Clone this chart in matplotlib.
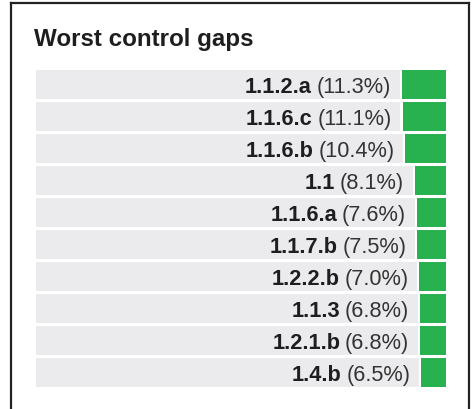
import numpy as np
import matplotlib
matplotlib.use('agg')
import matplotlib.pyplot as plt
from matplotlib.lines import Line2D

plt.rcParams['font.family'] = ['Liberation Sans', 'DejaVu Sans']

# control ids and their share of failed checks (%)
control_ids = ['1.1.2.a', '1.1.6.c', '1.1.6.b', '1.1', '1.1.6.a',
               '1.1.7.b', '1.2.2.b', '1.1.3', '1.2.1.b', '1.4.b']
gap_pct = [11.3, 11.1, 10.4, 8.1, 7.6, 7.5, 7.0, 6.8, 6.8, 6.5]

W, H = 472, 409
fig = plt.figure(figsize=(W / 100, H / 100), dpi=100)

# frame around the card (left, top, right)
frame = dict(color='#222222', linewidth=1.6, solid_capstyle='projecting')
fig.add_artist(Line2D([11 / W, 11 / W], [-0.05, 1 - 3 / H], **frame))
fig.add_artist(Line2D([11 / W, 469 / W], [1 - 3 / H, 1 - 3 / H], **frame))
fig.add_artist(Line2D([469 / W, 469 / W], [-0.05, 1 - 3 / H], **frame))

fig.text(34 / W, 1 - 46 / H, 'Worst control gaps', fontsize=17.4,
         fontweight='bold', color='#1e1e1e', ha='left', va='baseline')

ax = fig.add_axes([36 / W, 1 - 387 / H, 410 / W, 317 / H])
pct = np.array(gap_pct)
rows = np.arange(len(control_ids))
h = 29 / 32
sep = 0.5  # white gap between grey track and green bar

ax.barh(rows, 100 - pct, height=h, color='#ebebed')
ax.barh(rows, pct - sep, left=100 - pct + sep, height=h, color='#28b14f')
ax.set_xlim(0, 100)
ax.set_ylim(rows[-1] + h / 2, -h / 2)
ax.axis('off')

for i, (cid, p) in enumerate(zip(control_ids, gap_pct)):
    reg = ax.annotate(f'({p:.1f}%)', xy=(100 - p, i), xytext=(-9, -8.5),
                      textcoords='offset pixels', ha='right', va='baseline',
                      fontsize=15.7, color='#333333')
    ax.annotate(cid, xy=(0, i), xycoords=(reg, 'data'), xytext=(-4.5, -8.5),
                textcoords='offset pixels', ha='right', va='baseline',
                fontsize=15.7, fontweight='bold', color='#1e1e1e')

fig.savefig('out.png', dpi=100)
